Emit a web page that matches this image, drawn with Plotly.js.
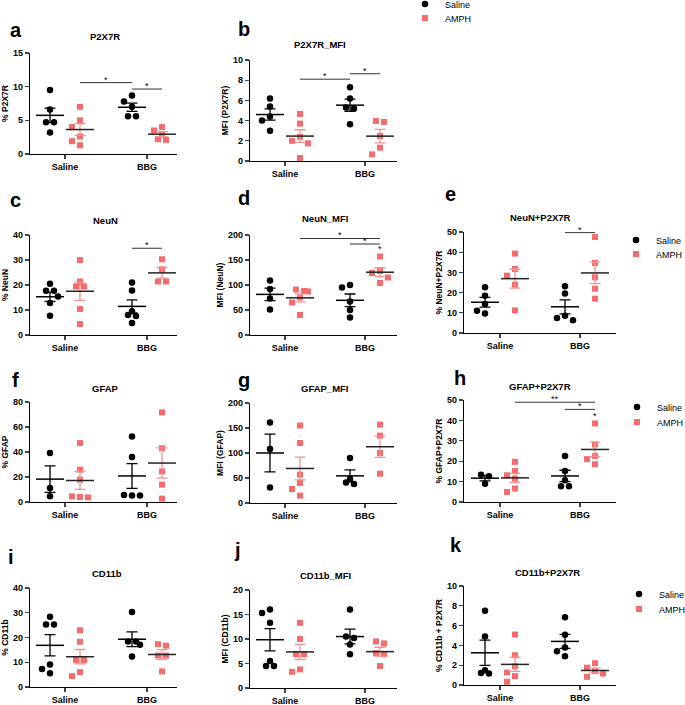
<!DOCTYPE html>
<html><head><meta charset="utf-8">
<script src="https://cdn.plot.ly/plotly-3.0.1.min.js"></script>
<style>html,body{margin:0;padding:0;background:#fff}#chart{width:685px;height:705px}</style>
</head><body><div id="chart"></div>
<script>
// ---------- DATA ----------
const groupLabels = ['Saline', 'BBG'];
const treatmentLabels = ['Saline', 'AMPH'];
// each panel: [Saline/Saline, Saline/AMPH, BBG/Saline, BBG/AMPH]
const P2X7R       = [[9.5,6.6,4.7,4.7,3.2],[7.0,5.0,4.0,2.6,1.3,1.9],[8.7,7.8,7.0,5.6,5.6],[4.0,3.5,2.9,2.1,2.2]];
const P2X7R_MFI   = [[6.2,5.4,4.4,4.0,3.0],[4.65,3.7,2.4,2.0,1.75,0.3],[7.3,6.2,5.3,5.2,3.65],[3.97,3.87,2.48,1.32,0.66]];
const NeuN        = [[20.5,17.7,17.7,15.4,12.8,7.7],[30,21.4,19.4,19.4,10.4,4.4],[21,17.8,9.5,8.0,7.6,4.8],[30.3,26.3,21.4,21.4]];
const NeuN_MFI    = [[109,92,73,51],[91,87,88,75,65,40],[100,95,67,50,35],[157,124,128,115,104]];
const NeuN_P2X7R  = [[22.6,18.5,14.4,9.6,11],[39.3,31.7,28.4,23.9,11.2],[23.1,19.5,8.6,6.3,7.4],[47.5,34.7,27.6,21.9,17]];
const GFAP        = [[39.2,11.2,4.5],[47.2,25.9,17.9,3.7,4.5,4.0],[52.5,36,5.1,5.6,5.1],[71.7,43,24.5,13.9,2.7]];
const GFAP_MFI    = [[161,108,31],[155,120,56.7,40,28,14.7],[90,48,38,41],[156.7,134.7,100,58.7]];
const GFAP_P2X7R  = [[13.4,12.6,9.0],[19.7,15.2,13.1,11.5,6.6,4.9],[22.5,15.2,10.7,7.7,7.7],[38.5,28.2,22.6,21,18.5]];
const CD11b       = [[28.4,25.3,25.3,9.1,7.3,5.6],[22.9,18.3,10.9,10.9,6,4.4],[30.3,18.4,18.4,17.1,12.3],[17.3,16.7,12.7,12.7,6.3]];
const CD11b_MFI   = [[15.3,16,13.3,5.5,4.5,4.5],[13.3,10,6.9,6.9,3.8,3.3],[16,10.5,10.2,8.9,6.9],[9.5,9.1,7.1,6.9,4.5]];
const CD11b_P2X7R = [[7.5,4.9,1.5,1.16,1.2],[5.1,3.0,1.9,1.26,0.9,0.33],[6.85,5.07,3.8,3.4,2.9],[2.2,1.75,1.4,1.16,0.83]];

const panelData   = [P2X7R, P2X7R_MFI, NeuN, NeuN_MFI, NeuN_P2X7R, GFAP, GFAP_MFI, GFAP_P2X7R, CD11b, CD11b_MFI, CD11b_P2X7R];
const panelTitles = ['P2X7R','P2X7R_MFI','NeuN','NeuN_MFI','NeuN+P2X7R','GFAP','GFAP_MFI','GFAP+P2X7R','CD11b','CD11b_MFI','CD11b+P2X7R'];
const yTitles     = ['% P2X7R','MFI (P2X7R)','% NeuN','MFI (NeuN)','% NeuN+P2X7R','% GFAP','MFI (GFAP)','% GFAP+P2X7R','% CD11b','MFI (CD11b)','% CD11b + P2X7R'];
const yMax        = [15,10,40,200,50,80,200,50,40,20,10];
const yStep       = [5,2,10,50,10,20,50,10,10,5,2];
const letters     = ['a','b','c','d','e','f','g','h','i','j','k'];
// significance bars: [fromGroup, toGroup, level, label]  (groups 0..3 as above)
const sigBars = {
  0: [[1,2,10.6,'*'],[2,3,9.65,'*']],
  1: [[1,2,8.1,'*'],[2,3,8.64,'*']],
  2: [[2,3,34.7,'*']],
  3: [[1,3,193,'*'],[2,3,182,'*']],
  4: [[2,3,49.7,'*']],
  7: [[1,3,48.9,'**'],[2,3,45.4,'*']]
};
// single stars above a group: [group, level, label]
const groupStars = { 3: [[3,172,'*']], 7: [[3,42,'*']] };

// ---------- GEOMETRY (pixels) ----------
const W = 685, H = 705;
const cols = [ {L:30, R:177, T1:65, T2:147}, {L:250, R:397, T1:285, T2:365}, {L:464, R:616, T1:500, T2:580} ];
const geom = [
  {col:0, top:53,  bot:154, tx:105, ty:37,  lx:16,  ly:30},
  {col:1, top:60,  bot:161, tx:320, ty:45,  lx:244, ly:29, leg:[425,4,18]},
  {col:0, top:235, bot:335, tx:105, ty:220, lx:15,  ly:200},
  {col:1, top:235, bot:335, tx:325, ty:218, lx:244, ly:198},
  {col:2, top:232, bot:333, tx:540, ty:217, lx:450, ly:194, leg:[636,240,254]},
  {col:0, top:402, bot:502, tx:105, ty:388, lx:15,  ly:380},
  {col:1, top:403, bot:503, tx:325, ty:388, lx:244, ly:380},
  {col:2, top:400, bot:502, tx:540, ty:386, lx:460, ly:378, leg:[637,407,422]},
  {col:0, top:588, bot:687, tx:107, ty:573, lx:11,  ly:557},
  {col:1, top:590, bot:688, tx:325, ty:575, lx:237, ly:550},
  {col:2, top:586, bot:685, tx:547, ty:572, lx:456, ly:545, leg:[639,594,609]}
];

const FONT = 'Arial, "Liberation Sans", sans-serif';
const BLACK = '#000000';
const RED = '#F66B6B';
const RED_ERR = '#F39393';
const px = x => x / W;
const py = y => 1 - y / H;

function mean(a){ return a.reduce((s,v)=>s+v,0)/a.length; }
function sem(a){ const m = mean(a); const v = a.reduce((s,x)=>s+(x-m)*(x-m),0)/(a.length-1); return Math.sqrt(v/a.length); }

// simple beeswarm offsets in pixels
function swarm(vals, pyu){
  const D = 8, R = 7;
  const idx = vals.map((v,i)=>i).sort((a,b)=>vals[b]-vals[a]);
  const placed = []; const out = new Array(vals.length).fill(0);
  for (const i of idx){
    const y = vals[i]*pyu;
    const cands = [0,-D,D,-2*D,2*D,-3*D,3*D];
    let c0 = 0;
    for (const c of cands){ if (placed.every(p => Math.hypot(p.x-c, p.y-y) >= R)){ c0 = c; break; } }
    placed.push({x:c0, y:y}); out[i] = c0;
  }
  let k = 0;
  while (k < idx.length){
    let j = k;
    while (j+1 < idx.length && Math.abs(vals[idx[j+1]]-vals[idx[k]])*pyu < 2) j++;
    const n = j-k+1;
    if (n >= 2){ for (let t=0;t<n;t++) out[idx[k+t]] = (t-(n-1)/2)*D; }
    k = j+1;
  }
  return out;
}

const traces = [];
const layout = {
  width: W, height: H,
  margin: {l:0, r:0, t:0, b:0, autoexpand:false},
  paper_bgcolor: '#ffffff', plot_bgcolor: 'rgba(0,0,0,0)',
  font: {family: FONT, color: BLACK},
  showlegend: true,
  shapes: [], annotations: []
};

let legendCount = 0;
panelData.forEach((data, p) => {
  const g = geom[p], c = cols[g.col];
  const n = p+1, sfx = n===1 ? '' : String(n);
  const xa = 'x'+sfx, ya = 'y'+sfx;
  const ppx = (c.T2 - c.T1);
  const ppy = (g.bot - g.top)/yMax[p];
  const xr = [1 - (c.T1-c.L)/ppx, 2 + (c.R-c.T2)/ppx];
  const gx = gi => (gi<2 ? 1 : 2) + (gi%2===0 ? -1 : 1)*15/ppx;

  layout['xaxis'+sfx] = {
    domain:[px(c.L), px(c.R)], anchor: ya, range: xr, fixedrange:true,
    tickvals:[1,2], ticktext: groupLabels, ticks:'outside', ticklen:4, tickwidth:1.2,
    showline:true, linewidth:1.2, linecolor:BLACK, showgrid:false, zeroline:false,
    tickfont:{family:FONT, size:9, color:BLACK, weight:'bold'}
  };
  layout['yaxis'+sfx] = {
    domain:[py(g.bot), py(g.top)], anchor: xa, range:[0, yMax[p]], fixedrange:true,
    tick0:0, dtick:yStep[p], ticks:'outside', ticklen:4, tickwidth:1.2,
    showline:true, linewidth:1.2, linecolor:BLACK, showgrid:false, zeroline:false,
    tickfont:{family:FONT, size:9, color:BLACK, weight:'bold'},
    title:{text: yTitles[p], font:{family:FONT, size:8.5, color:BLACK, weight:'bold'}, standoff:3}
  };

  [0,1].forEach(t => {
    const xs = [], ys = [];
    [t, t+2].forEach(gi => {
      const off = swarm(data[gi], ppy);
      data[gi].forEach((v,i) => { xs.push(gx(gi) + off[i]/ppx); ys.push(v); });
    });
    const tr = {
      type:'scatter', mode:'markers', x:xs, y:ys, xaxis:xa, yaxis:ya,
      name: treatmentLabels[t], cliponaxis:false, hoverinfo:'skip',
      marker: t===0 ? {symbol:'circle', size:6.5, color:BLACK} : {symbol:'square', size:6, color:RED},
      showlegend:false
    };
    if (g.leg){
      legendCount++;
      const lk = legendCount===1 ? 'legend' : 'legend'+legendCount;
      tr.showlegend = true; tr.legend = lk;
      layout[lk] = {x: px(g.leg[0]-20), xanchor:'left', y: py(g.leg[1+t]), yanchor:'middle',
        bgcolor:'rgba(0,0,0,0)', borderwidth:0, font:{family:FONT, size:9, color:BLACK}};
    }
    traces.push(tr);
  });
  [0,1].forEach(t => {
    const gs = [t, t+2];
    traces.push({
      type:'scatter', mode:'markers', xaxis:xa, yaxis:ya, showlegend:false, hoverinfo:'skip', cliponaxis:false,
      x: gs.map(gx), y: gs.map(gi => mean(data[gi])),
      marker:{symbol:'line-ew', size:20, line:{width:1.5, color: t===0 ? BLACK : '#222222'}},
      error_y:{type:'data', array: gs.map(gi => sem(data[gi])), visible:true, width:5.5, thickness:1.3,
        color: t===0 ? BLACK : RED_ERR}
    });
  });
  (sigBars[p] || []).forEach(s => {
    layout.shapes.push({type:'line', xref:xa, yref:ya, x0:gx(s[0]), x1:gx(s[1]), y0:s[2], y1:s[2],
      line:{color:'#333333', width:1}});
    layout.annotations.push({xref:xa, yref:ya, x:(gx(s[0])+gx(s[1]))/2, y:s[2], text:s[3], showarrow:false,
      yanchor:'bottom', yshift:-4, font:{family:FONT, size:9, color:BLACK}});
  });
  (groupStars[p] || []).forEach(s => {
    layout.annotations.push({xref:xa, yref:ya, x:gx(s[0]), y:s[1], text:s[2], showarrow:false,
      yanchor:'middle', font:{family:FONT, size:9, color:BLACK}});
  });
  layout.annotations.push({xref:'paper', yref:'paper', x:px(g.tx), y:py(g.ty), text:panelTitles[p], showarrow:false,
    xanchor:'center', yanchor:'middle', font:{family:FONT, size:9.5, color:BLACK, weight:'bold'}});
  layout.annotations.push({xref:'paper', yref:'paper', x:px(g.lx), y:py(g.ly), text:letters[p], showarrow:false,
    xanchor:'center', yanchor:'middle', font:{family:FONT, size:20, color:BLACK, weight:'bold'}});
});

Plotly.newPlot('chart', traces, layout, {staticPlot:true, displayModeBar:false});
</script>
</body></html>
